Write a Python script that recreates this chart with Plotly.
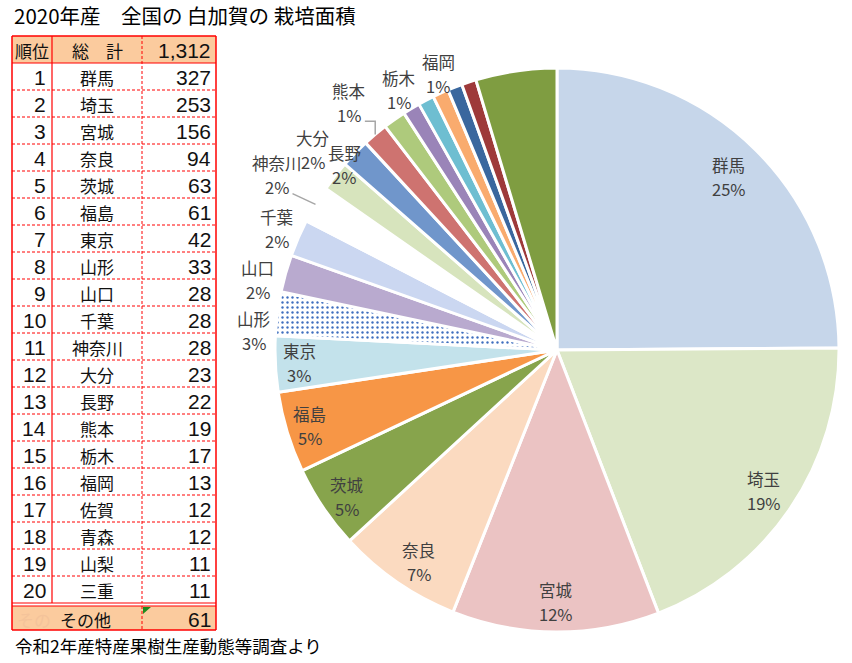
import math
import plotly.graph_objects as go

W, H = 852, 663

# ---------------- data ----------------
title_text = "2020年産　全国の 白加賀の 栽培面積"
source_text = "令和2年産特産果樹生産動態等調査より"
header_labels = ["順位", "総　計", "1,312"]
ranks = list(range(1, 21))
prefectures = ["群馬", "埼玉", "宮城", "奈良", "茨城", "福島", "東京", "山形", "山口", "千葉",
               "神奈川", "大分", "長野", "熊本", "栃木", "福岡", "佐賀", "青森", "山梨", "三重"]
areas = [327, 253, 156, 94, 63, 61, 42, 33, 28, 28, 28, 23, 22, 19, 17, 13, 12, 12, 11, 11]
other_label = "その他"
other_area = 61

pie_labels = prefectures + [other_label]
pie_values = areas + [other_area]

# ---------------- styles ----------------
slice_colors = ["#C6D6EA", "#DCE7C7", "#EBC3C3", "#FBDAC0", "#87A44C", "#F79646", "#C3E2EB",
                "#FFFFFF", "#B9AACF", "#CBD7F1", "#FFFFFF", "#D7E4BD", "#7096CB", "#CE7370",
                "#AECA7C", "#9A84B8", "#6EBED1", "#F9AB6E", "#3A679E", "#9E3A3A", "#7F9D41"]
pattern_shapes = ["" for _ in pie_labels]
pattern_shapes[7] = "."
pattern_fg = ["#3F6FBF" for _ in pie_labels]

n_labeled = 16
label_r = [0.865, 0.888, 0.894, 0.897, 0.909, 0.917, 0.916, 1.077, 1.089, 1.083,
           1.17, 1.12, 1.0, 1.145, 1.08, 1.066]
label_dang = [0, 0, 0, -1.4, -1, 0, 0, -3.8, -2.6, 0, 1, 1.2, -3.2, 0, 3.9, 7.8]

CX, CY, R = 557, 350, 282  # pie centre / radius in px


def px(x):
    return x / W


def py(y):
    return 1 - y / H


fig = go.Figure()
fig.add_trace(go.Pie(
    labels=pie_labels, values=pie_values, sort=False, direction="clockwise", rotation=0,
    textinfo="none", hoverinfo="label+value+percent",
    marker=dict(colors=slice_colors, line=dict(color="white", width=3),
                pattern=dict(shape=pattern_shapes, fgcolor=pattern_fg, size=5, solidity=0.18)),
    domain=dict(x=[px(CX - R), px(CX + R)], y=[py(CY + R), py(CY - R)]),
    showlegend=False,
))

annotations = []
shapes = []

total = sum(pie_values)
cum = 0
mids = []
for v in pie_values:
    mids.append((cum + v / 2) / total * 360)
    cum += v


def label_pos(i):
    a = math.radians(mids[i] + label_dang[i])
    return CX + label_r[i] * R * math.sin(a), CY - label_r[i] * R * math.cos(a)


def rim(i):
    a = math.radians(mids[i])
    return CX + R * math.sin(a), CY - R * math.cos(a)


label_font = dict(family="Noto Sans CJK JP", size=16.5, color="#404040")
for i in range(n_labeled):
    lx, ly = label_pos(i)
    pct = f"{round(pie_values[i] / total * 100)}%"
    annotations.append(dict(x=px(lx), y=py(ly - 12), text=pie_labels[i], showarrow=False,
                            xref="paper", yref="paper", xanchor="center", yanchor="middle", font=label_font))
    annotations.append(dict(x=px(lx), y=py(ly + 12), text=pct, showarrow=False,
                            xref="paper", yref="paper", xanchor="center", yanchor="middle", font=label_font))

# leader lines (神奈川 straight, 熊本 elbow)
lead_col = "#A6A6A6"
lx, ly = label_pos(10)
rx, ry = rim(10)
shapes.append(dict(type="path", xref="paper", yref="paper",
                   path=f"M {px(lx + 15)} {py(ly + 19)} L {px(rx)} {py(ry)}",
                   line=dict(color=lead_col, width=1.5)))
lx, ly = label_pos(13)
rx, ry = rim(13)
shapes.append(dict(type="path", xref="paper", yref="paper",
                   path=f"M {px(lx + 16)} {py(ly + 18)} L {px(rx)} {py(ly + 18)} L {px(rx)} {py(ry)}",
                   line=dict(color=lead_col, width=1.5)))

# ---------------- table ----------------
X0, X1, X2, X3 = 12, 52, 142, 216
TOP, HDR_B, ROW_H = 36, 63, 27
ROWS_B = HDR_B + ROW_H * len(ranks)
FOOT_T = ROWS_B + 3
FOOT_B = FOOT_T + 24
RED = "#FF0000"
HDR_FILL = "#FBCB9E"

shapes.append(dict(type="rect", xref="paper", yref="paper", x0=px(X0), x1=px(X3), y0=py(TOP), y1=py(HDR_B),
                   fillcolor=HDR_FILL, line=dict(width=0), layer="below"))
shapes.append(dict(type="rect", xref="paper", yref="paper", x0=px(X0), x1=px(X3), y0=py(FOOT_T), y1=py(FOOT_B),
                   fillcolor=HDR_FILL, line=dict(width=0), layer="below"))


def hline(y, x0, x1, dash="solid", w=1.2):
    shapes.append(dict(type="line", xref="paper", yref="paper", x0=px(x0), x1=px(x1), y0=py(y), y1=py(y),
                       line=dict(color=RED, width=w, dash=dash)))


def vline(x, y0, y1, dash="solid", w=1.2):
    shapes.append(dict(type="line", xref="paper", yref="paper", x0=px(x), x1=px(x), y0=py(y0), y1=py(y1),
                       line=dict(color=RED, width=w, dash=dash)))


hline(TOP, X0, X3, w=1.5)
hline(HDR_B, X0, X3)
for k in range(1, len(ranks)):
    hline(HDR_B + k * ROW_H, X0, X3, dash="3px,2px", w=1)
hline(ROWS_B, X0, X3)
hline(FOOT_T, X0, X3)
hline(FOOT_B, X0, X3, w=1.5)
vline(X0, TOP, FOOT_B, w=1.5)
vline(X3, TOP, FOOT_B, w=1.5)
vline(X1, TOP, ROWS_B)
vline(X2, TOP, ROWS_B, dash="3px,2px", w=1)
vline(X2, FOOT_T, FOOT_B, dash="3px,2px", w=1)
# small green indicator in footer cell
shapes.append(dict(type="path", xref="paper", yref="paper",
                   path=f"M {px(X2 + 1)} {py(FOOT_T + 1)} L {px(X2 + 9)} {py(FOOT_T + 1)} L {px(X2 + 1)} {py(FOOT_T + 8)} Z",
                   fillcolor="#1E8C1E", line=dict(width=0)))

num_font = dict(family="Liberation Sans", size=21, color="#111111")
name_font = dict(family="Noto Sans CJK JP", size=17, color="#111111")


def txt(x, y, s, font, anchor):
    annotations.append(dict(x=px(x), y=py(y), text=s, showarrow=False, xref="paper", yref="paper",
                            xanchor=anchor, yanchor="middle", font=font))


hy = (TOP + HDR_B) / 2 + 1
txt((X0 + X1) / 2, hy, header_labels[0], name_font, "center")
txt((X1 + X2) / 2, hy, header_labels[1], name_font, "center")
txt(X3 - 3, hy, header_labels[2], num_font, "right")
for k, (rk, nm, v) in enumerate(zip(ranks, prefectures, areas)):
    yc = HDR_B + ROW_H * k + ROW_H / 2 + 1
    txt(X1 - 4, yc, str(rk), num_font, "right")
    txt((X1 + X2) / 2, yc, nm, name_font, "center")
    txt(X3 - 3, yc, str(v), num_font, "right")
fy = (FOOT_T + FOOT_B) / 2 + 1
txt((X0 + X1) / 2 + 2, fy, other_label[:2], dict(family="Noto Sans CJK JP", size=17, color="#F4C39A"), "center")
txt((X1 + X2) / 2 - 12, fy, other_label, name_font, "center")
txt(X3 - 3, fy, str(other_area), num_font, "right")

# title and source
annotations.append(dict(x=px(12), y=py(15), text=title_text, showarrow=False, xref="paper", yref="paper",
                        xanchor="left", yanchor="middle",
                        font=dict(family="Noto Sans CJK JP", size=20.5, color="#000000")))
annotations.append(dict(x=px(13), y=py(645), text=source_text, showarrow=False, xref="paper", yref="paper",
                        xanchor="left", yanchor="middle",
                        font=dict(family="Noto Sans CJK JP", size=17.5, color="#000000")))

fig.update_layout(width=W, height=H, margin=dict(l=0, r=0, t=0, b=0),
                  paper_bgcolor="white", plot_bgcolor="white",
                  annotations=annotations, shapes=shapes)
fig.write_html("out.html", config={"displayModeBar": False},
               post_script="document.body.style.margin='0px';document.body.style.overflow='hidden';")
